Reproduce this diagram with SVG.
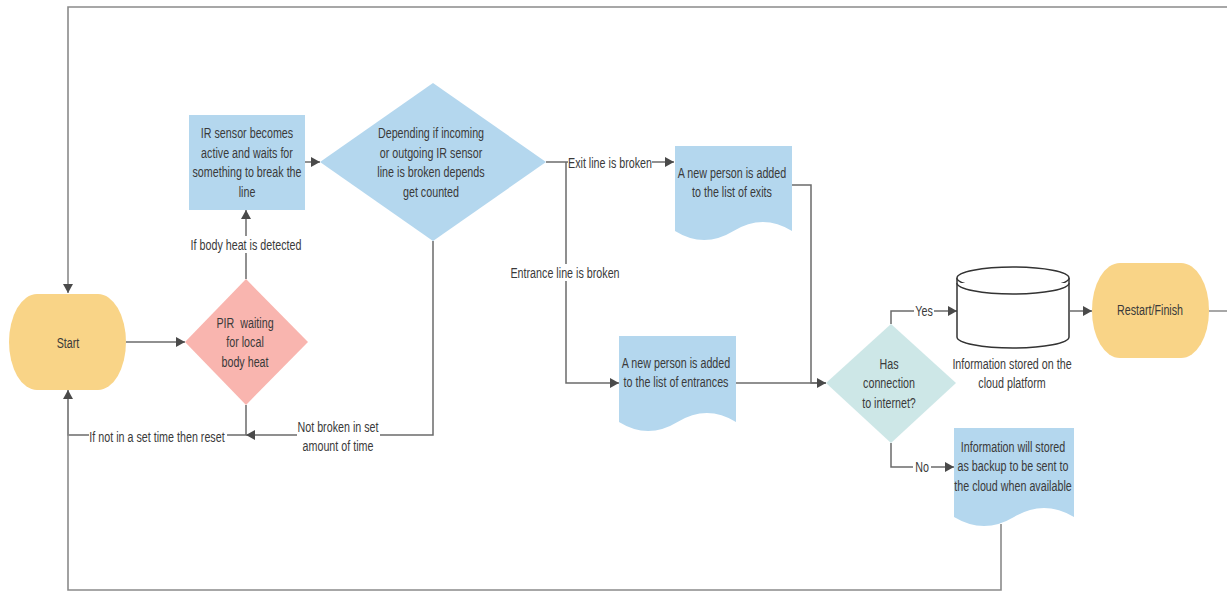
<svg xmlns="http://www.w3.org/2000/svg" width="1227" height="592" viewBox="0 0 1227 592">
<style>
  text { font-family: "Liberation Sans", Arial, sans-serif; font-size: 14.5px; fill: #3a3a3a; text-anchor: middle; }
  .edge { fill: none; stroke: #6b6b6b; stroke-width: 1.5; }
  .loop { fill: none; stroke: #8a8a8a; stroke-width: 1.6; }
  .blue { fill: #b4d7ee; }
  .pink { fill: #f9b5af; }
  .yellow { fill: #f9d487; }
  .teal { fill: #cde7e7; }
  .bg { fill: #ffffff; }
  .cyl { fill: #ffffff; stroke: #333333; stroke-width: 1.5; }
</style>
<defs>
  <marker id="arr" markerUnits="userSpaceOnUse" markerWidth="9" markerHeight="10" refX="9" refY="5" orient="auto">
    <path d="M0,0 L9,5 L0,10 Z" fill="#4a4a4a"/>
  </marker>
</defs>

<g id="connectors">
  <path class="loop" d="M1209,311 H1240 V7 H68 V293" marker-end="url(#arr)"/>
  <path class="edge" d="M126,342 H185" marker-end="url(#arr)"/>
  <path class="edge" d="M246,279 V210" marker-end="url(#arr)"/>
  <path class="edge" d="M305,162 H320" marker-end="url(#arr)"/>
  <path class="edge" d="M433,241 V435 H246" marker-end="url(#arr)"/>
  <path class="edge" d="M246,405 V435 H68 V390" marker-end="url(#arr)"/>
  <path class="edge" d="M546,162 H674" marker-end="url(#arr)"/>
  <path class="edge" d="M566,162 V383 H619" marker-end="url(#arr)"/>
  <path class="edge" d="M792,185 H811 V383 H826"/>
  <path class="edge" d="M736,383 H826" marker-end="url(#arr)"/>
  <path class="edge" d="M891,324 V311 H957" marker-end="url(#arr)"/>
  <path class="edge" d="M891,443 V467 H954" marker-end="url(#arr)"/>
  <path class="edge" d="M1070,311 H1092" marker-end="url(#arr)"/>
  <path class="loop" d="M1001,524 V590 H68 V400"/>

  <rect class="bg" x="190" y="236" width="112" height="17"/>
  <text transform="translate(246,0) scale(0.74,1)" x="0" y="250">If body heat is detected</text>
  <rect class="bg" x="89" y="428" width="138" height="17"/>
  <text transform="translate(157,0) scale(0.74,1)" x="0" y="442">If not in a set time then reset</text>
  <rect class="bg" x="297" y="417" width="83" height="38"/>
  <text transform="translate(338,0) scale(0.74,1)" x="0" y="432">Not broken in set<tspan x="0" dy="19.5">amount of time</tspan></text>
  <rect class="bg" x="568" y="154" width="84" height="17"/>
  <text transform="translate(610,0) scale(0.74,1)" x="0" y="168">Exit line is broken</text>
  <rect class="bg" x="509" y="264" width="112" height="17"/>
  <text transform="translate(565,0) scale(0.74,1)" x="0" y="278">Entrance line is broken</text>
  <rect class="bg" x="914" y="303" width="20" height="17"/>
  <text transform="translate(924,0) scale(0.74,1)" x="0" y="316">Yes</text>
  <rect class="bg" x="913" y="459" width="18" height="17"/>
  <text transform="translate(922,0) scale(0.74,1)" x="0" y="472">No</text>
</g>

<g id="start">
  <rect class="yellow" x="9" y="294" width="117" height="96" rx="28" ry="48"/>
  <text transform="translate(68,0) scale(0.74,1)" x="0" y="348">Start</text>
</g>

<g id="pir">
  <polygon class="pink" points="246,279 308,342 246,405 185,342"/>
  <text transform="translate(245,0) scale(0.74,1)" x="0" y="328" xml:space="preserve">PIR  waiting<tspan x="0" dy="19.5">for local</tspan><tspan x="0" dy="19.5">body heat</tspan></text>
</g>

<g id="ir-sensor">
  <rect class="blue" x="189" y="115" width="116" height="95"/>
  <text transform="translate(247,0) scale(0.74,1)" x="0" y="138.5">IR sensor becomes<tspan x="0" dy="19.5">active and waits for</tspan><tspan x="0" dy="19.5">something to break the</tspan><tspan x="0" dy="19.5">line</tspan></text>
</g>

<g id="ir-decision">
  <polygon class="blue" points="433,83 546,162 433,241 320,162"/>
  <text transform="translate(431,0) scale(0.74,1)" x="0" y="138.5">Depending if incoming<tspan x="0" dy="19.5">or outgoing IR sensor</tspan><tspan x="0" dy="19.5">line is broken depends</tspan><tspan x="0" dy="19.5">get counted</tspan></text>
</g>

<g id="exit-doc">
  <path class="blue" d="M675,146 H792 V231 Q763,213 733.5,231 Q704,249 675,231 Z"/>
  <text transform="translate(732,0) scale(0.74,1)" x="0" y="178">A new person is added<tspan x="0" dy="19.5">to the list of exits</tspan></text>
</g>

<g id="entrance-doc">
  <path class="blue" d="M619,336 H736 V422 Q707,404 677.5,422 Q648,440 619,422 Z"/>
  <text transform="translate(676,0) scale(0.74,1)" x="0" y="368">A new person is added<tspan x="0" dy="19.5">to the list of entrances</tspan></text>
</g>

<g id="has-connection">
  <polygon class="teal" points="891,324 956,383 891,443 826,383"/>
  <text transform="translate(889,0) scale(0.74,1)" x="0" y="369">Has<tspan x="0" dy="19.5">connection</tspan><tspan x="0" dy="19.5">to internet?</tspan></text>
</g>

<g id="cloud-storage">
  <path class="cyl" d="M957,278 A56,11 0 0 1 1069,278 V337 A56,11 0 0 1 957,337 Z"/>
  <path class="cyl" fill="none" d="M957,278 A56,11 0 0 0 1069,278"/>
  <path class="cyl" fill="none" d="M957,283 A56,11 0 0 0 1069,283"/>
  <text transform="translate(1012,0) scale(0.74,1)" x="0" y="369">Information stored on the<tspan x="0" dy="19.5">cloud platform</tspan></text>
</g>

<g id="restart">
  <rect class="yellow" x="1092" y="263" width="117" height="95" rx="28" ry="47"/>
  <text transform="translate(1150,0) scale(0.74,1)" x="0" y="315">Restart/Finish</text>
</g>

<g id="backup-doc">
  <path class="blue" d="M954,428 H1074 V517 Q1044,499 1014,517 Q984,535 954,517 Z"/>
  <text transform="translate(1013,0) scale(0.74,1)" x="0" y="452">Information will stored<tspan x="0" dy="19.5">as backup to be sent to</tspan><tspan x="0" dy="19.5">the cloud when available</tspan></text>
</g>
</svg>
